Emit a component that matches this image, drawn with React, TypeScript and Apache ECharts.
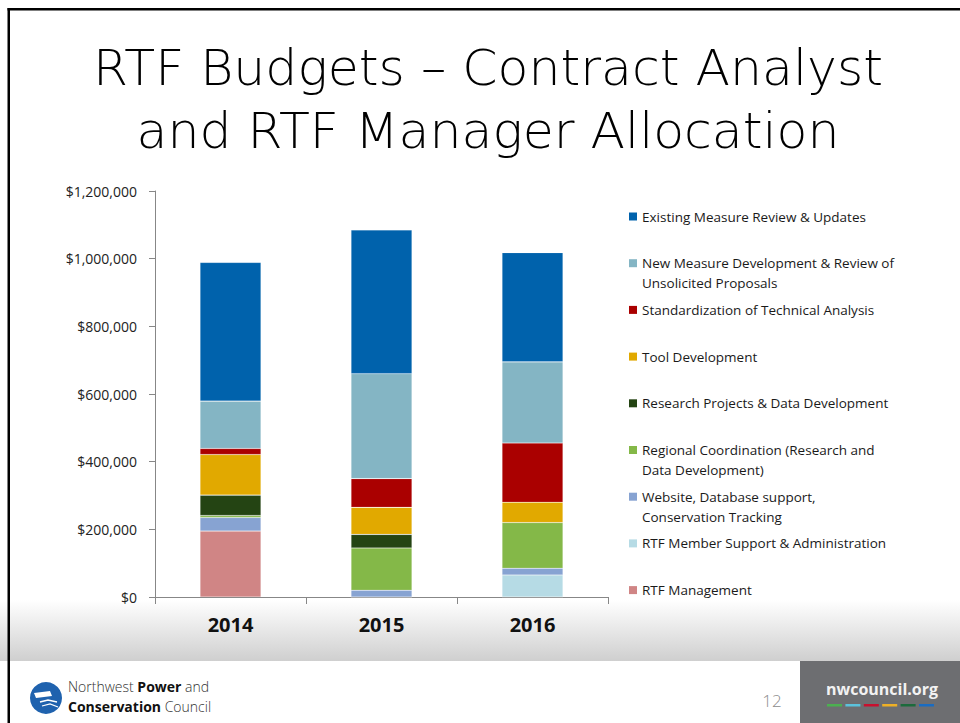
import React, { useEffect, useRef } from "react";
import * as echarts from "echarts";

const years = ["2014", "2015", "2016"];

const rtfManagement = [195000, 0, 0];
const memberSupport = [0, 0, 65000];
const website = [40000, 20000, 20000];
const regionalCoord = [6000, 125000, 135000];
const researchProjects = [60000, 40000, 0];
const toolDevelopment = [120000, 80000, 60000];
const standardization = [18000, 85000, 175000];
const newMeasure = [140000, 310000, 240000];
const existingMeasure = [410000, 425000, 323000];

const yTicks = [0, 200000, 400000, 600000, 800000, 1000000, 1200000];

// bottom -> top stacking order
const seriesDefs = [
  { name: "RTF Management", label: ["RTF Management"], data: rtfManagement, color: "#D08585" },
  { name: "RTF Member Support & Administration", label: ["RTF Member Support & Administration"], data: memberSupport, color: "#B6DBE5" },
  { name: "Website, Database support, Conservation Tracking", label: ["Website, Database support,", "Conservation Tracking"], data: website, color: "#87A3D2" },
  { name: "Regional Coordination (Research and Data Development)", label: ["Regional Coordination (Research and", "Data Development)"], data: regionalCoord, color: "#84B848" },
  { name: "Research Projects & Data Development", label: ["Research Projects & Data Development"], data: researchProjects, color: "#244413" },
  { name: "Tool Development", label: ["Tool Development"], data: toolDevelopment, color: "#E1A900" },
  { name: "Standardization of Technical Analysis", label: ["Standardization of Technical Analysis"], data: standardization, color: "#AA0000" },
  { name: "New Measure Development & Review of Unsolicited Proposals", label: ["New Measure Development & Review of", "Unsolicited Proposals"], data: newMeasure, color: "#84B5C4" },
  { name: "Existing Measure Review & Updates", label: ["Existing Measure Review & Updates"], data: existingMeasure, color: "#0062AC" },
];

const dashColors = ["#4CB050", "#5BC2DC", "#C8102E", "#EEB026", "#1C6B3C", "#1A6CC2"];

export default function App() {
  const ref = useRef<HTMLDivElement>(null);
  useEffect(() => {
    if (!ref.current) return;
    const chart = echarts.init(ref.current, null, { renderer: "svg" });

    const legendItems: any[] = [];
    const legendOrder = [...seriesDefs].reverse();
    legendOrder.forEach((s, i) => {
      const cy = 216.5 + i * 46.7;
      legendItems.push({
        type: "rect",
        shape: { x: 629, y: cy - 4, width: 8, height: 8 },
        style: { fill: s.color },
      });
      legendItems.push({
        type: "text",
        x: 642,
        y: cy - 10,
        style: {
          text: s.label.join("\n"),
          fill: "#1a1a1a",
          font: "13.5px 'Open Sans'",
          lineHeight: 20,
          verticalAlign: "top",
        },
      });
    });

    const dashes = dashColors.map((c, i) => ({
      type: "rect",
      shape: { x: 827 + i * 18.4, y: 704, width: 15, height: 2.5 },
      style: { fill: c },
    }));

    const option: any = {
      animation: false,
      backgroundColor: "#ffffff",
      grid: { left: 155, right: 352, top: 191, bottom: 126, containLabel: false },
      xAxis: {
        type: "category",
        data: years,
        axisLine: { lineStyle: { color: "#878787", width: 1 } },
        axisTick: { show: true, length: 7, lineStyle: { color: "#878787" } },
        axisLabel: {
          color: "#111",
          fontFamily: "'Open Sans'",
          fontWeight: "bold",
          fontSize: 20,
          margin: 17,
        },
      },
      yAxis: {
        type: "value",
        min: 0,
        max: 1200000,
        interval: 200000,
        splitLine: { show: false },
        axisLine: { show: true, lineStyle: { color: "#878787", width: 1 } },
        axisTick: { show: true, length: 6, lineStyle: { color: "#878787" } },
        axisLabel: {
          color: "#222",
          fontFamily: "'Open Sans'",
          fontSize: 14,
          margin: 18,
          formatter: (v: number) => (yTicks.includes(v) ? "$" + v.toLocaleString("en-US") : ""),
        },
      },
      series: seriesDefs.map((s) => ({
        name: s.name,
        type: "bar",
        stack: "total",
        barWidth: 61,
        data: s.data,
        itemStyle: { color: s.color, borderColor: "rgba(255,255,255,0.25)", borderWidth: 0.6 },
      })),
      graphic: [
        {
          type: "rect",
          z: -10,
          shape: { x: 0, y: 600, width: 960, height: 61 },
          style: {
            fill: new echarts.graphic.LinearGradient(0, 0, 0, 1, [
              { offset: 0, color: "#ffffff" },
              { offset: 1, color: "#cfcfcf" },
            ]),
          },
        },
        {
          type: "rect",
          z: -10,
          shape: { x: 0, y: 661, width: 960, height: 62 },
          style: { fill: "#ffffff" },
        },
        { type: "rect", shape: { x: 7.5, y: 8, width: 952.5, height: 2.5 }, style: { fill: "#000" } },
        { type: "rect", shape: { x: 7.5, y: 8, width: 2.5, height: 715 }, style: { fill: "#000" } },
        {
          type: "text",
          x: 488,
          y: 67,
          style: {
            text: "RTF Budgets – Contract Analyst",
            fill: "#000",
            font: "200 50.5px 'DejaVu Sans'",
            align: "center",
            verticalAlign: "middle",
          },
        },
        {
          type: "text",
          x: 488,
          y: 130,
          style: {
            text: "and RTF Manager Allocation",
            fill: "#000",
            font: "200 50.5px 'DejaVu Sans'",
            align: "center",
            verticalAlign: "middle",
          },
        },
        ...legendItems,
        { type: "rect", shape: { x: 800, y: 661, width: 160, height: 62 }, style: { fill: "#6D6E71" } },
        {
          type: "text",
          x: 882,
          y: 689,
          style: {
            text: "nwcouncil.org",
            fill: "#F2F2F2",
            font: "bold 16px 'Open Sans'",
            align: "center",
            verticalAlign: "middle",
          },
        },
        ...dashes,
        {
          type: "text",
          x: 772,
          y: 700,
          style: {
            text: "12",
            fill: "#8C8C8C",
            font: "300 17px 'Open Sans'",
            align: "center",
            verticalAlign: "middle",
          },
        },
        { type: "circle", shape: { cx: 46, cy: 698, r: 16 }, style: { fill: "#1F62AE" } },
        {
          type: "polygon",
          shape: { points: [[34, 693], [50, 691], [52, 696], [36, 698]] },
          style: { fill: "#ffffff" },
        },
        {
          type: "polyline",
          shape: { points: [[40, 702], [48, 700], [57, 702]] },
          style: { stroke: "#ffffff", lineWidth: 1.4, fill: "none" },
        },
        {
          type: "polyline",
          shape: { points: [[42, 706], [50, 704], [58, 707]] },
          style: { stroke: "#ffffff", lineWidth: 1.2, fill: "none" },
        },
        {
          type: "text",
          x: 68,
          y: 686.5,
          style: {
            text: "{n|Northwest }{b|Power}{n| and}",
            verticalAlign: "middle",
            rich: {
              n: { font: "300 14px 'Open Sans'", fill: "#333", lineHeight: 14 },
              b: { font: "bold 14px 'Open Sans'", fill: "#111", lineHeight: 14 },
            },
          },
        },
        {
          type: "text",
          x: 68,
          y: 706.5,
          style: {
            text: "{b|Conservation }{n|Council}",
            verticalAlign: "middle",
            rich: {
              n: { font: "300 14px 'Open Sans'", fill: "#333", lineHeight: 14 },
              b: { font: "bold 14px 'Open Sans'", fill: "#111", lineHeight: 14 },
            },
          },
        },
      ],
    };
    chart.setOption(option);
    return () => chart.dispose();
  }, []);
  return (
    <div
      ref={ref}
      style={{ position: "fixed", left: 0, top: 0, width: 960, height: 723 }}
    />
  );
}
